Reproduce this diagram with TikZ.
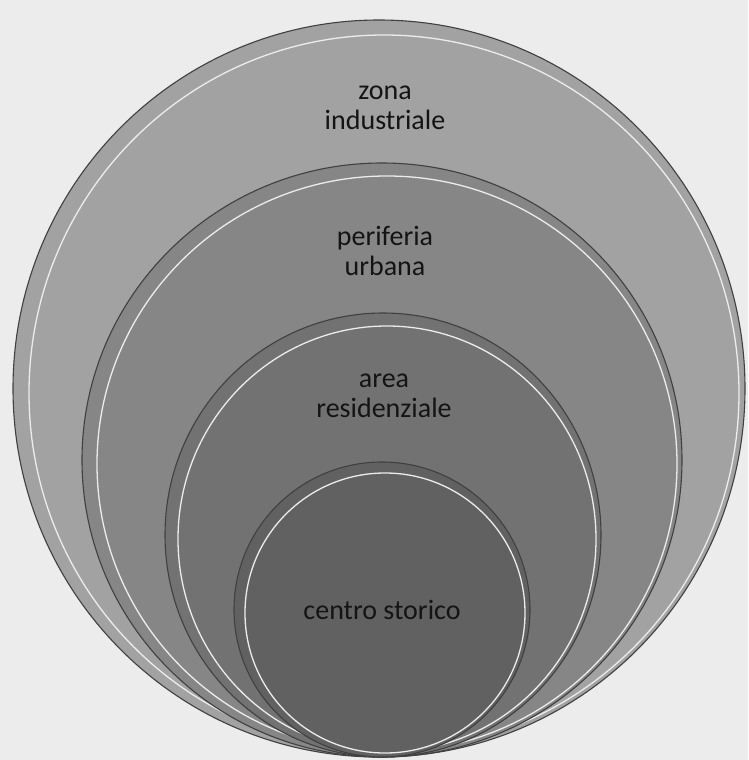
\documentclass[tikz,border=0pt]{standalone}
\usepackage{fontspec}
\setmainfont{Carlito}
\definecolor{fondo}{RGB}{236,236,236}
\definecolor{industria}{RGB}{162,162,162}
\definecolor{periferia}{RGB}{134,134,134}
\definecolor{residenza}{RGB}{114,114,114}
\definecolor{centro}{RGB}{97,97,97}
\begin{document}
\begin{tikzpicture}[x=1pt, y=-1pt,
  bordo/.style={draw=black!75, line width=1.1pt},
  riflesso/.style={draw=white!85!gray, line width=1.3pt},
  etichetta/.style={font=\fontsize{28}{29.5}\selectfont, text=black!92, align=center}]
  % Sfondo
  \fill[fondo] (0,0) rectangle (748,760);
  % Zona industriale
  \filldraw[bordo, fill=industria] (379,388.5) ellipse [x radius=366pt, y radius=368.5pt];
  \draw[riflesso] (384,393) ellipse [x radius=355pt, y radius=358pt];
  % Periferia urbana
  \filldraw[bordo, fill=periferia] (382,460) ellipse [x radius=300pt, y radius=297pt];
  \draw[riflesso] (387,464) ellipse [x radius=290pt, y radius=288pt];
  % Area residenziale
  \filldraw[bordo, fill=residenza] (383,535) ellipse [x radius=218pt, y radius=222pt];
  \draw[riflesso] (387,539) ellipse [x radius=209pt, y radius=213pt];
  % Centro storico
  \filldraw[bordo, fill=centro] (382,609.5) ellipse [x radius=148pt, y radius=147.5pt];
  \draw[riflesso] (385,613) ellipse [x radius=140pt, y radius=140pt];
  % Etichette
  \node[etichetta] (zona) at (385,108) {zona\\industriale};
  \node[etichetta] (urbana) at (385,251) {periferia\\urbana};
  \node[etichetta] (residenziale) at (384,396) {area\\residenziale};
  \node[etichetta] (storico) at (382,610) {centro storico};
\end{tikzpicture}
\end{document}
